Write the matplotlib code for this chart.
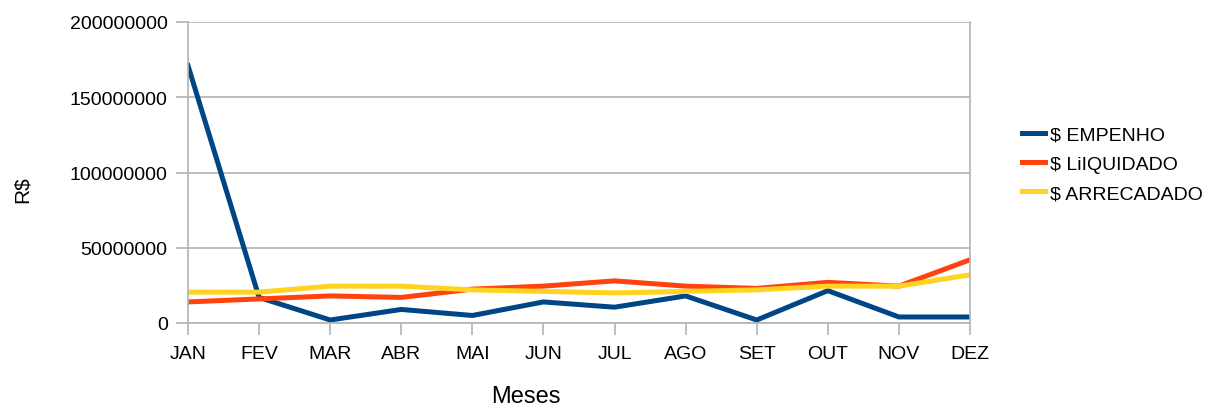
import matplotlib
matplotlib.use("Agg")
import matplotlib.pyplot as plt

meses = ["JAN", "FEV", "MAR", "ABR", "MAI", "JUN", "JUL", "AGO", "SET", "OUT", "NOV", "DEZ"]
empenho = [171e6, 17e6, 2e6, 9e6, 5e6, 14e6, 10.5e6, 18e6, 2e6, 21.5e6, 4e6, 4e6]
liquidado = [14e6, 16e6, 18e6, 17e6, 22.5e6, 24.5e6, 28e6, 24.5e6, 23e6, 27e6, 24.5e6, 42e6]
arrecadado = [20.5e6, 20.5e6, 24.5e6, 24.5e6, 22e6, 21e6, 20e6, 21e6, 22e6, 24.5e6, 24.5e6, 32e6]
yticks = [0, 50000000, 100000000, 150000000, 200000000]

plt.rcParams['font.family'] = ['Liberation Sans', 'DejaVu Sans']

W, H = 1215, 406
fig = plt.figure(figsize=(W/100, H/100), dpi=100)
ax = fig.add_axes([188/W, 1-324/H, (970-188)/W, (324-23)/H])

x = list(range(len(meses)))
ax.plot(x, empenho, color="#004586", lw=3.6, label="$ EMPENHO")
ax.plot(x, liquidado, color="#ff420e", lw=3.6, label="$ LiIQUIDADO")
ax.plot(x, arrecadado, color="#ffd320", lw=3.6, label="$ ARRECADADO")

ax.set_xlim(0, len(meses)-1)
ax.set_ylim(0, 200e6)
ax.set_xticks(x)
ax.set_xticklabels(meses)
ax.set_yticks(yticks)
ax.set_yticklabels([str(v) for v in yticks])
ax.yaxis.grid(True, color="#b3b3b3", lw=1.2)
ax.set_axisbelow(True)
ax.spines["top"].set_visible(False)
for s in ["left", "right", "bottom"]:
    ax.spines[s].set_color("#b3b3b3")
    ax.spines[s].set_linewidth(1.2)
ax.tick_params(axis='x', length=8.6, color="#b3b3b3", width=1.2, labelsize=14, pad=7)
ax.tick_params(axis='y', length=8.6, color="#b3b3b3", width=1.2, labelsize=14, pad=6)

ax.set_xlabel("Meses", fontsize=17, va='center', ha='center')
ax.xaxis.set_label_coords(526/W, 1-397/H, transform=fig.transFigure)
ax.set_ylabel("R$", fontsize=15, va='center', ha='center')
ax.yaxis.set_label_coords(22/W, 1-190/H, transform=fig.transFigure)

leg = ax.legend(loc="center left", bbox_to_anchor=(1022/W, 1-165/H),
                bbox_transform=fig.transFigure, frameon=False, fontsize=14,
                handlelength=1.2, handletextpad=0.25, labelspacing=0.6,
                borderaxespad=0, borderpad=0)

fig.savefig("out.png", dpi=100)
